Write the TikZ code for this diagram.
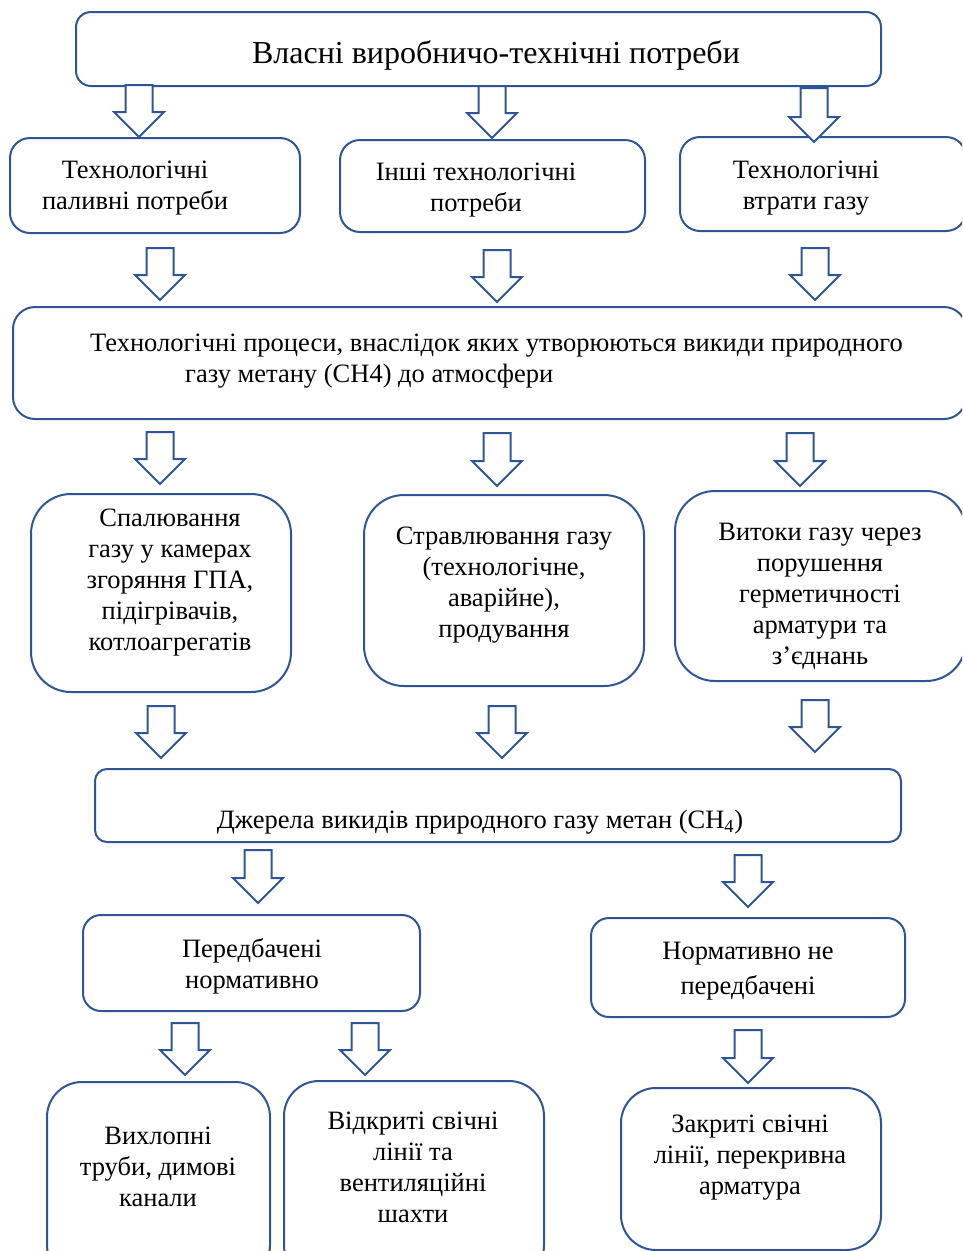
\documentclass[tikz,border=0pt]{standalone}
\usepackage{fontspec}
\setmainfont{Liberation Serif}
\usepackage{tikz}

\definecolor{boxblue}{RGB}{47,85,151}

\tikzset{
  box/.style={draw=boxblue, line width=2pt, rounded corners=#1, inner sep=0pt},
  box/.default=18pt,
  txt/.style={align=center, inner sep=0pt, font=\fontsize{26.5}{31}\selectfont},
  blockarr/.style={draw=boxblue, line width=2pt, line join=miter, fill=white}
}

% hollow block arrow: centre x, top y, tip y
\newcommand{\blockarrow}[3]{%
  \draw[blockarr] (#1-13.5,#2) -- (#1+13.5,#2) -- (#1+13.5,#3-25) -- (#1+25,#3-25)
    -- (#1,#3) -- (#1-25,#3-25) -- (#1-13.5,#3-25) -- cycle;}

\begin{document}
\begin{tikzpicture}[x=1pt,y=-1pt]

\useasboundingbox (0,0) rectangle (962,1251);
\clip (0,0) rectangle (962,1251);

% level 1
\node[box=15pt, minimum width=805pt, minimum height=74pt] (own) at (478.5,49) {};
\node[txt, font=\fontsize{32}{36}\selectfont] (ownT) at (496,55) {Власні виробничо-технічні потреби};

% level 2
\node[box=20pt, minimum width=290pt, minimum height=95pt] (fuel) at (155,185.5) {};
\node[txt] (fuelT) at (135,188.5) {Технологічні\\паливні потреби};

\node[box=20pt, minimum width=305pt, minimum height=92pt] (other) at (492.5,186) {};
\node[txt] (otherT) at (476,190.5) {Інші технологічні\\потреби};

\node[box=20pt, minimum width=286pt, minimum height=94pt] (loss) at (823,184) {};
\node[txt] (lossT) at (806,188.5) {Технологічні\\втрати газу};

% level 3
\node[box=22pt, minimum width=953pt, minimum height=112pt] (proc) at (489.5,363) {};
\node[txt, align=left, anchor=west] (procT) at (90,361)
  {Технологічні процеси, внаслідок яких утворюються викиди природного\\
   \hspace*{95pt}газу метану (СН4) до атмосфери};

% level 4
\node[box=40pt, minimum width=260pt, minimum height=198pt] (burn) at (161,593) {};
\node[txt] (burnT) at (170,582.5)
  {Спалювання\\газу у камерах\\згоряння ГПА,\\підігрівачів,\\котлоагрегатів};

\node[box=40pt, minimum width=280pt, minimum height=191pt] (vent) at (504,590.5) {};
\node[txt] (ventT) at (504,585)
  {Стравлювання газу\\(технологічне,\\аварійне),\\продування};

\node[box=40pt, minimum width=291pt, minimum height=190pt] (leak) at (820.5,586) {};
\node[txt] (leakT) at (820,596.5)
  {Витоки газу через\\порушення\\герметичності\\арматури та\\з’єднань};

% level 5
\node[box=12pt, minimum width=806pt, minimum height=73pt] (src) at (498,805.5) {};
\node[txt] (srcT) at (480,822) {Джерела викидів природного газу метан (СН\textsubscript{4})};

% level 6
\node[box=18pt, minimum width=337pt, minimum height=96pt] (norm) at (251.5,963) {};
\node[txt] (normT) at (252,966) {Передбачені\\нормативно};

\node[box=18pt, minimum width=314pt, minimum height=99pt] (nonorm) at (748,967.5) {};
\node[txt, font=\fontsize{26.5}{35}\selectfont] (nonormT) at (748,971.5) {Нормативно не\\передбачені};

% level 7
\node[box=35pt, minimum width=223pt, minimum height=198pt] (exh) at (158.5,1181) {};
\node[txt] (exhT) at (158,1167) {Вихлопні\\труби, димові\\канали};

\node[box=35pt, minimum width=260pt, minimum height=199pt] (open) at (414,1180.5) {};
\node[txt] (openT) at (413,1167) {Відкриті свічні\\лінії та\\вентиляційні\\шахти};

\node[box=35pt, minimum width=260pt, minimum height=162pt] (closed) at (751,1169) {};
\node[txt] (closedT) at (750,1158) {Закриті свічні\\лінії, перекривна\\арматура};

% arrows
\blockarrow{139}{85}{137}
\blockarrow{492}{86}{138}
\blockarrow{814}{88}{142}

\blockarrow{160}{248}{300}
\blockarrow{497}{250}{302}
\blockarrow{815}{248}{300}

\blockarrow{160}{432}{484}
\blockarrow{497}{433}{486}
\blockarrow{800}{433}{486}

\blockarrow{161}{706}{758}
\blockarrow{502}{706}{758}
\blockarrow{815}{700}{752}

\blockarrow{258}{850}{903}
\blockarrow{748}{855}{907}

\blockarrow{185}{1023}{1075}
\blockarrow{365}{1023}{1075}
\blockarrow{748}{1030}{1083}

\end{tikzpicture}
\end{document}
